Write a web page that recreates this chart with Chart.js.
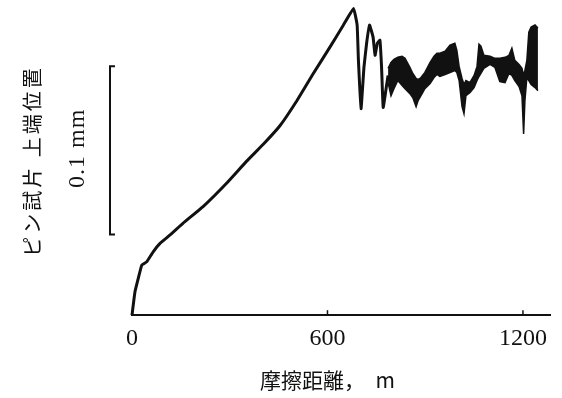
<!doctype html>
<html lang="ja">
  <head>
    <meta charset="utf-8">
    <title>ピン試片上端位置と摩擦距離</title>
    <script src="https://cdn.jsdelivr.net/npm/chart.js"></script>
    <style>
      body { margin: 0; background: #fff; }
    </style>
  </head>
  <body>
    <canvas id="myChart" width="562" height="398"></canvas>
    <script>
    // friction distance (m) and pin top position (µm)
    const riseX = [0, 9, 19, 30, 45, 65, 86, 117, 157, 219, 291, 352, 403, 454, 506, 556, 608, 649, 680,
                   691, 695, 703, 712, 720, 729, 740, 746, 753, 761, 766, 771, 782, 786];
    const riseY = [0, 13.8, 21.7, 29.8, 31.7, 37.7, 42.7, 47.7, 54.7, 64.7, 78.6, 91.6, 101.6, 112.6, 127.5, 143.5, 159.5, 172.5, 182.3,
                   172.5, 151.5, 122.8, 147.5, 161.5, 172.5, 165.3, 154.5, 161.7, 163.5, 147.5, 123.5, 137.5, 142.5];

    // noisy band after seizure: upper and lower edge of the trace
    const bandX = [786, 795, 804, 816, 829, 838, 853, 862, 872, 878, 887, 899, 915, 927, 936, 945, 961, 976, 991, 997,
                   1004, 1013, 1019, 1025, 1037, 1050, 1059, 1065, 1071, 1080, 1099, 1114, 1129, 1145, 1157, 1166, 1175,
                   1188, 1197, 1202, 1206, 1212, 1218, 1225, 1237, 1246];
    const bandTop = [146.7, 150.3, 152.1, 153.3, 153.9, 152.7, 147.3, 143.7, 140.7, 140.1, 141.3, 144.3, 150.3, 153.9, 155.7, 155.7, 156.9, 160.5, 161.7, 157.5,
                     147.9, 140.7, 137.1, 139.5, 138.3, 142.5, 147.9, 161.1, 159.9, 154.5, 153.9, 152.7, 152.7, 153.3, 154.5, 158.7, 151.5,
                     149.1, 146.7, 142.5, 145.5, 151.5, 168.3, 171.3, 172.5, 170.7];
    const bandBottom = [138.3, 130.5, 134.7, 139.5, 136.5, 134.7, 131.7, 129.3, 124.0, 127.5, 130.5, 134.7, 137.7, 141.3, 143.1, 141.9, 143.1, 144.3, 145.5, 144.3,
                        139.5, 124.0, 119.8, 130.5, 132.3, 135.3, 139.5, 141.9, 143.7, 146.7, 149.1, 147.3, 138.9, 138.3, 143.7, 142.5, 139.5,
                        135.9, 130.5, 107.8, 127.5, 141.3, 139.5, 137.1, 135.3, 133.5];

    const tickValues = [0, 600, 1200];
    const innerTicks = [600, 1200];
    const scaleBar = [48, 148];   // 0.1 mm = 100 µm

    const ink = '#111';

    function pts(xs, ys) {
        return xs.map((v, i) => ({x: v, y: ys[i]}));
    }

    const overlay = {
        id: 'overlay',
        afterDraw: (chart) => {
            const ctx = chart.ctx;
            const x = chart.scales.x;
            const y = chart.scales.y;
            ctx.save();
            ctx.strokeStyle = ink;
            ctx.fillStyle = ink;

            // small ticks pointing up into the plot
            ctx.lineWidth = 1.5;
            innerTicks.forEach(v => {
                const px = x.getPixelForValue(v);
                ctx.beginPath();
                ctx.moveTo(px, y.bottom);
                ctx.lineTo(px, y.bottom - 5);
                ctx.stroke();
            });

            // scale bar bracket
            const bx = 110;
            const top = y.getPixelForValue(scaleBar[1]);
            const bot = y.getPixelForValue(scaleBar[0]);
            ctx.lineWidth = 2;
            ctx.beginPath();
            ctx.moveTo(bx + 5, top);
            ctx.lineTo(bx, top);
            ctx.lineTo(bx, bot);
            ctx.lineTo(bx + 5, bot);
            ctx.stroke();

            ctx.textAlign = 'center';
            ctx.textBaseline = 'middle';

            // scale bar label
            ctx.save();
            ctx.translate(78, (top + bot) / 2 - 2);
            ctx.rotate(-Math.PI / 2);
            ctx.font = '24px "Liberation Serif", serif';
            ctx.letterSpacing = '1px';
            ctx.fillText('0.1 mm', 0, 0);
            ctx.restore();

            // y axis title
            ctx.save();
            ctx.translate(32, 161);
            ctx.rotate(-Math.PI / 2);
            ctx.font = '20px "Noto Sans CJK JP", sans-serif';
            ctx.letterSpacing = '3px';
            ctx.fillText('ピン試片 上端位置', 0, 0);
            ctx.restore();

            // x axis title
            ctx.font = '21px "Noto Sans CJK JP", sans-serif';
            ctx.fillText('摩擦距離，　m', x.getPixelForValue(600), 380);

            ctx.restore();
        }
    };

    const myChart = new Chart(document.getElementById('myChart'), {
        type: 'line',
        data: {
            datasets: [{
                label: 'rise',
                data: pts(riseX, riseY),
                borderColor: ink,
                borderWidth: 3,
                pointRadius: 0,
                tension: 0.1,
                fill: false,
                clip: false
            }, {
                label: 'band top',
                data: pts(bandX, bandTop),
                borderColor: ink,
                borderWidth: 1.5,
                pointRadius: 0,
                fill: false,
                clip: false
            }, {
                label: 'band bottom',
                data: pts(bandX, bandBottom),
                borderColor: ink,
                backgroundColor: ink,
                borderWidth: 1.5,
                pointRadius: 0,
                fill: '-1',
                clip: false
            }]
        },
        plugins: [overlay],
        options: {
            responsive: false,
            animation: false,
            devicePixelRatio: 1,
            layout: {
                padding: {left: 132, right: 12, top: 5, bottom: 36}
            },
            plugins: {
                legend: {display: false},
                tooltip: {enabled: false}
            },
            scales: {
                x: {
                    type: 'linear',
                    min: 0,
                    max: 1283,
                    afterBuildTicks: (s) => { s.ticks = tickValues.map(v => ({value: v})); },
                    grid: {display: false, drawTicks: false},
                    border: {display: true, color: ink, width: 2},
                    ticks: {
                        color: ink,
                        padding: 9,
                        maxRotation: 0,
                        autoSkip: false,
                        callback: (v) => String(v),
                        font: {family: '"Liberation Serif", serif', size: 24}
                    }
                },
                y: {
                    display: false,
                    min: 0,
                    max: 184.4
                }
            }
        }
    });
    </script>
  </body>
</html>
